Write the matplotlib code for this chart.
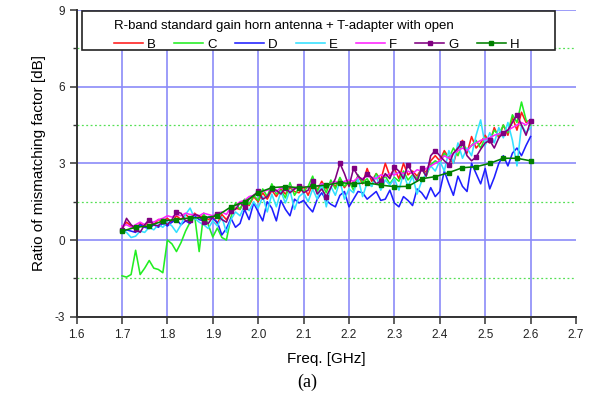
import matplotlib.pyplot as plt
import numpy as np
from matplotlib.patches import Rectangle
from matplotlib.ticker import FixedLocator, FormatStrFormatter

plt.rcParams['font.family'] = ['Liberation Sans', 'DejaVu Sans']
plt.rcParams['axes.unicode_minus'] = False

# frequency axes (GHz)
freq = np.round(np.arange(1.70, 2.6001, 0.01), 2)
freq_h = np.round(np.arange(1.70, 2.6001, 0.03), 2)
xticks = np.round(np.arange(1.6, 2.7001, 0.1), 1)

# mismatching factor ratio [dB] per antenna case
B = [0.45, 0.70, 0.55, 0.40, 0.65, 0.55, 0.75, 0.60, 0.80, 0.75,
     0.85, 0.70, 0.95, 0.80, 1.00, 0.85, 1.05, 0.90, 0.95, 0.80,
     0.90, 0.65, 1.00, 0.80, 1.10, 1.25, 1.20, 1.55, 1.35, 1.70,
     1.50, 1.85, 1.60, 1.95, 1.70, 2.00, 1.80, 2.05, 1.90, 1.85,
     2.10, 1.75, 2.20, 1.95, 2.30, 2.00, 2.25, 2.10, 2.40, 2.05,
     2.30, 2.15, 2.50, 2.20, 2.80, 2.30, 2.60, 2.35, 3.00, 2.50,
     2.80, 2.40, 3.00, 2.55, 2.70, 2.50, 2.80, 2.65, 3.10, 3.30,
     3.10, 3.50, 3.20, 3.00, 3.60, 3.90, 3.40, 4.05, 3.60, 3.80,
     4.10, 3.80, 4.40, 4.00, 4.50, 4.10, 4.80, 4.30, 5.00, 4.60,
     4.70]
C = [-1.40, -1.45, -1.35, -0.40, -1.35, -1.10, -0.80, -1.10, -1.15, -1.28,
     0.00, -0.15, -0.45, -0.10, 0.35, 0.70, 0.95, -0.45, 1.05, 0.60,
     0.12, 0.47, 0.10, 0.00, 0.90, 1.45, 1.20, 1.60, 1.40, 1.75,
     1.55, 2.00, 1.70, 2.20, 1.80, 1.95, 1.65, 2.25, 1.75, 2.05,
     1.90, 2.10, 2.50, 1.90, 2.20, 1.85, 2.35, 2.00, 2.45, 2.10,
     2.30, 1.95, 2.55, 2.25, 2.40, 2.10, 2.60, 2.30, 2.50, 2.20,
     2.45, 2.30, 2.70, 2.35, 2.55, 2.40, 2.80, 2.50, 2.95, 3.10,
     3.00, 3.40, 3.20, 3.60, 3.30, 3.80, 3.50, 3.70, 3.90, 3.60,
     4.00, 3.90, 4.30, 4.10, 4.50, 4.20, 4.90, 4.60, 5.40, 4.70,
     4.50]
D = [0.35, 0.40, 0.35, 0.30, 0.60, 0.50, 0.45, 0.60, 0.50, 0.65,
     0.55, 0.70, 0.80, 0.60, 0.75, 0.65, 0.95, 0.80, 0.75, 0.90,
     0.85, 0.70, 0.20, 0.45, 0.85, 0.50, 0.65, 1.20, 0.80, 1.45,
     1.10, 0.75, 1.50, 1.25, 0.75, 1.55, 1.20, 0.95, 1.60, 1.45,
     1.55, 1.30, 1.10, 1.60, 1.85, 1.55, 1.40, 1.30, 1.75, 1.90,
     1.30, 1.60, 1.90, 1.85, 1.60, 1.75, 1.90, 1.55, 1.60, 1.95,
     1.45, 1.30, 1.70, 1.55, 1.35, 2.00, 1.85, 1.60, 2.05, 1.70,
     1.90, 2.70, 2.20, 1.75, 2.50, 2.10, 1.90, 3.00, 2.60, 2.20,
     2.80, 2.00, 2.45, 3.00, 3.30, 2.90, 3.40, 3.60, 3.30, 3.70,
     4.05]
E = [0.40, 0.30, 0.10, 0.15, 0.35, 0.30, 0.50, 0.40, 0.60, 0.50,
     0.70, 0.55, 0.30, 0.60, 1.00, 1.25, 0.85, 0.70, 0.60, 0.45,
     0.75, 0.55, 0.90, 0.30, 0.80, 1.10, 0.95, 1.35, 1.15, 1.50,
     1.25, 1.70, 1.10, 1.80, 1.30, 1.90, 1.45, 1.95, 1.20, 1.70,
     1.85, 1.50, 2.00, 1.60, 2.20, 1.30, 2.10, 1.75, 2.30, 1.60,
     2.00, 1.85, 2.40, 1.70, 2.25, 2.10, 2.50, 1.95, 2.35, 2.15,
     2.40, 1.95, 2.60, 2.10, 2.50, 1.80, 2.30, 2.60, 2.90, 2.70,
     3.10, 2.70, 3.50, 3.00, 3.80, 3.20, 3.60, 3.30, 4.10, 4.70,
     3.70, 4.20, 3.80, 4.40, 4.00, 4.60, 3.90, 2.90, 4.50, 4.20,
     4.40]
F = [0.55, 0.60, 0.50, 0.60, 0.70, 0.60, 0.75, 0.70, 0.80, 0.85,
     0.95, 0.90, 1.00, 0.95, 1.05, 1.00, 1.00, 0.95, 1.05, 1.00,
     0.95, 1.05, 1.10, 1.00, 1.30, 1.35, 1.50, 1.55, 1.70, 1.75,
     1.85, 1.90, 1.95, 2.00, 1.90, 2.05, 2.00, 2.10, 2.00, 2.05,
     2.10, 2.05, 2.15, 2.10, 2.20, 2.15, 2.20, 2.30, 2.20, 2.30,
     2.35, 2.30, 2.45, 2.40, 2.50, 2.45, 2.40, 2.55, 2.50, 2.60,
     2.55, 2.65, 2.60, 2.70, 2.60, 2.75, 2.70, 2.80, 2.90, 3.00,
     3.10, 3.30, 3.20, 3.40, 3.50, 3.60, 3.50, 3.70, 3.80, 3.90,
     3.95, 4.00, 4.10, 4.15, 4.20, 4.30, 4.40, 4.50, 4.60, 4.50,
     4.70]
G = [0.40, 0.85, 0.60, 0.45, 0.30, 0.60, 0.80, 0.60, 0.55, 0.75,
     0.60, 0.80, 1.10, 1.05, 0.75, 0.80, 1.00, 0.95, 0.70, 0.65,
     0.90, 1.00, 0.80, 0.70, 1.15, 1.20, 1.45, 1.30, 1.60, 1.75,
     1.90, 1.60, 1.70, 2.00, 1.95, 1.80, 2.05, 1.85, 2.00, 2.10,
     1.85, 1.95, 2.30, 1.80, 2.00, 1.70, 2.05, 2.40, 3.00, 2.60,
     2.10, 2.80, 2.50, 2.35, 2.60, 2.45, 2.20, 2.30, 2.60, 2.40,
     2.85, 2.70, 2.40, 2.95, 2.60, 2.30, 2.80, 2.50, 3.30, 3.50,
     3.30, 3.10, 2.95, 3.40, 3.60, 3.80, 3.30, 3.10, 3.25, 3.55,
     3.80, 3.90, 3.60, 4.00, 4.20, 4.30, 4.60, 4.90, 4.50, 4.10,
     4.65]
H = [0.35, 0.50, 0.55, 0.75, 0.80, 0.87, 0.87, 0.95, 1.30, 1.50,
     1.85, 2.05, 2.09, 2.05, 2.10, 2.15, 2.25, 2.20, 2.24, 2.15,
     2.09, 2.10, 2.40, 2.48, 2.64, 2.83, 2.87, 3.00, 3.20, 3.20,
     3.10]

series = [("B", B, "#ff1a1a", None), ("C", C, "#22ee22", None),
          ("D", D, "#1f1fff", None), ("E", E, "#33e0ff", None),
          ("F", F, "#ff22ff", None), ("G", G, "#800080", "s")]

fig = plt.figure(figsize=(5.97, 4.03), dpi=100)
ax = fig.add_axes([0.1283, 0.2141, 0.8365, 0.761])

for name, vals, col, mk in series:
    if mk:
        ax.plot(freq, vals, color=col, lw=1.15, marker=mk, markersize=3.5,
                markevery=3, label=name)
    else:
        ax.plot(freq, vals, color=col, lw=1.15, label=name)
ax.plot(freq_h, H, color="#008000", lw=1.15, marker="s", markersize=3.5,
        label="H")

ax.set_xlim(1.6, 2.7)
ax.set_ylim(-3, 9)
ax.xaxis.set_major_locator(FixedLocator(xticks))
ax.xaxis.set_major_formatter(FormatStrFormatter("%.1f"))
ax.yaxis.set_major_locator(FixedLocator([-3, 0, 3, 6, 9]))
ax.yaxis.set_minor_locator(FixedLocator([-1.5, 1.5, 4.5, 7.5]))

ax.set_axisbelow(True)
ax.grid(True, which="major", color="#8a8af8", lw=1.4, alpha=0.85)
ax.grid(True, which="minor", axis="y", color="#55e055", lw=0.9, ls=(0, (1.5, 2)))
xgl = ax.xaxis.get_gridlines()
xgl[0].set_visible(False)
xgl[-1].set_visible(False)

for s in ["top", "right"]:
    ax.spines[s].set_visible(False)
for s in ["left", "bottom"]:
    ax.spines[s].set_color("#333333")
    ax.spines[s].set_linewidth(1.4)

ax.tick_params(which="major", direction="out", length=5, width=1.1,
               color="#333333", labelsize=8.5, labelcolor="#222222")
ax.tick_params(which="minor", direction="out", length=3, width=1.0,
               color="#333333")

ax.set_xlabel("Freq. [GHz]", fontsize=11, labelpad=8)
ax.set_ylabel("Ratio of mismatching factor [dB]", fontsize=11, labelpad=6)

# legend box
ax.add_patch(Rectangle((0.0108, 0.8696), 0.947, 0.127, transform=ax.transAxes,
                       facecolor="white", edgecolor="#222222", lw=1.2,
                       zorder=5, clip_on=False))
leg = ax.legend(loc="upper left", bbox_to_anchor=(0.062, 0.99), ncol=7,
                frameon=False, fontsize=9.5, borderpad=0, handlelength=2.2,
                handletextpad=0.3, columnspacing=1.38,
                title="R-band standard gain horn antenna + T-adapter with open",
                title_fontsize=9.5, alignment="left")
leg.set_zorder(6)

fig.text(0.514, 1 - 382 / 403, "(a)", ha="center", va="center",
         family="Liberation Serif", fontsize=13)

fig.savefig("out.png", dpi=100)
